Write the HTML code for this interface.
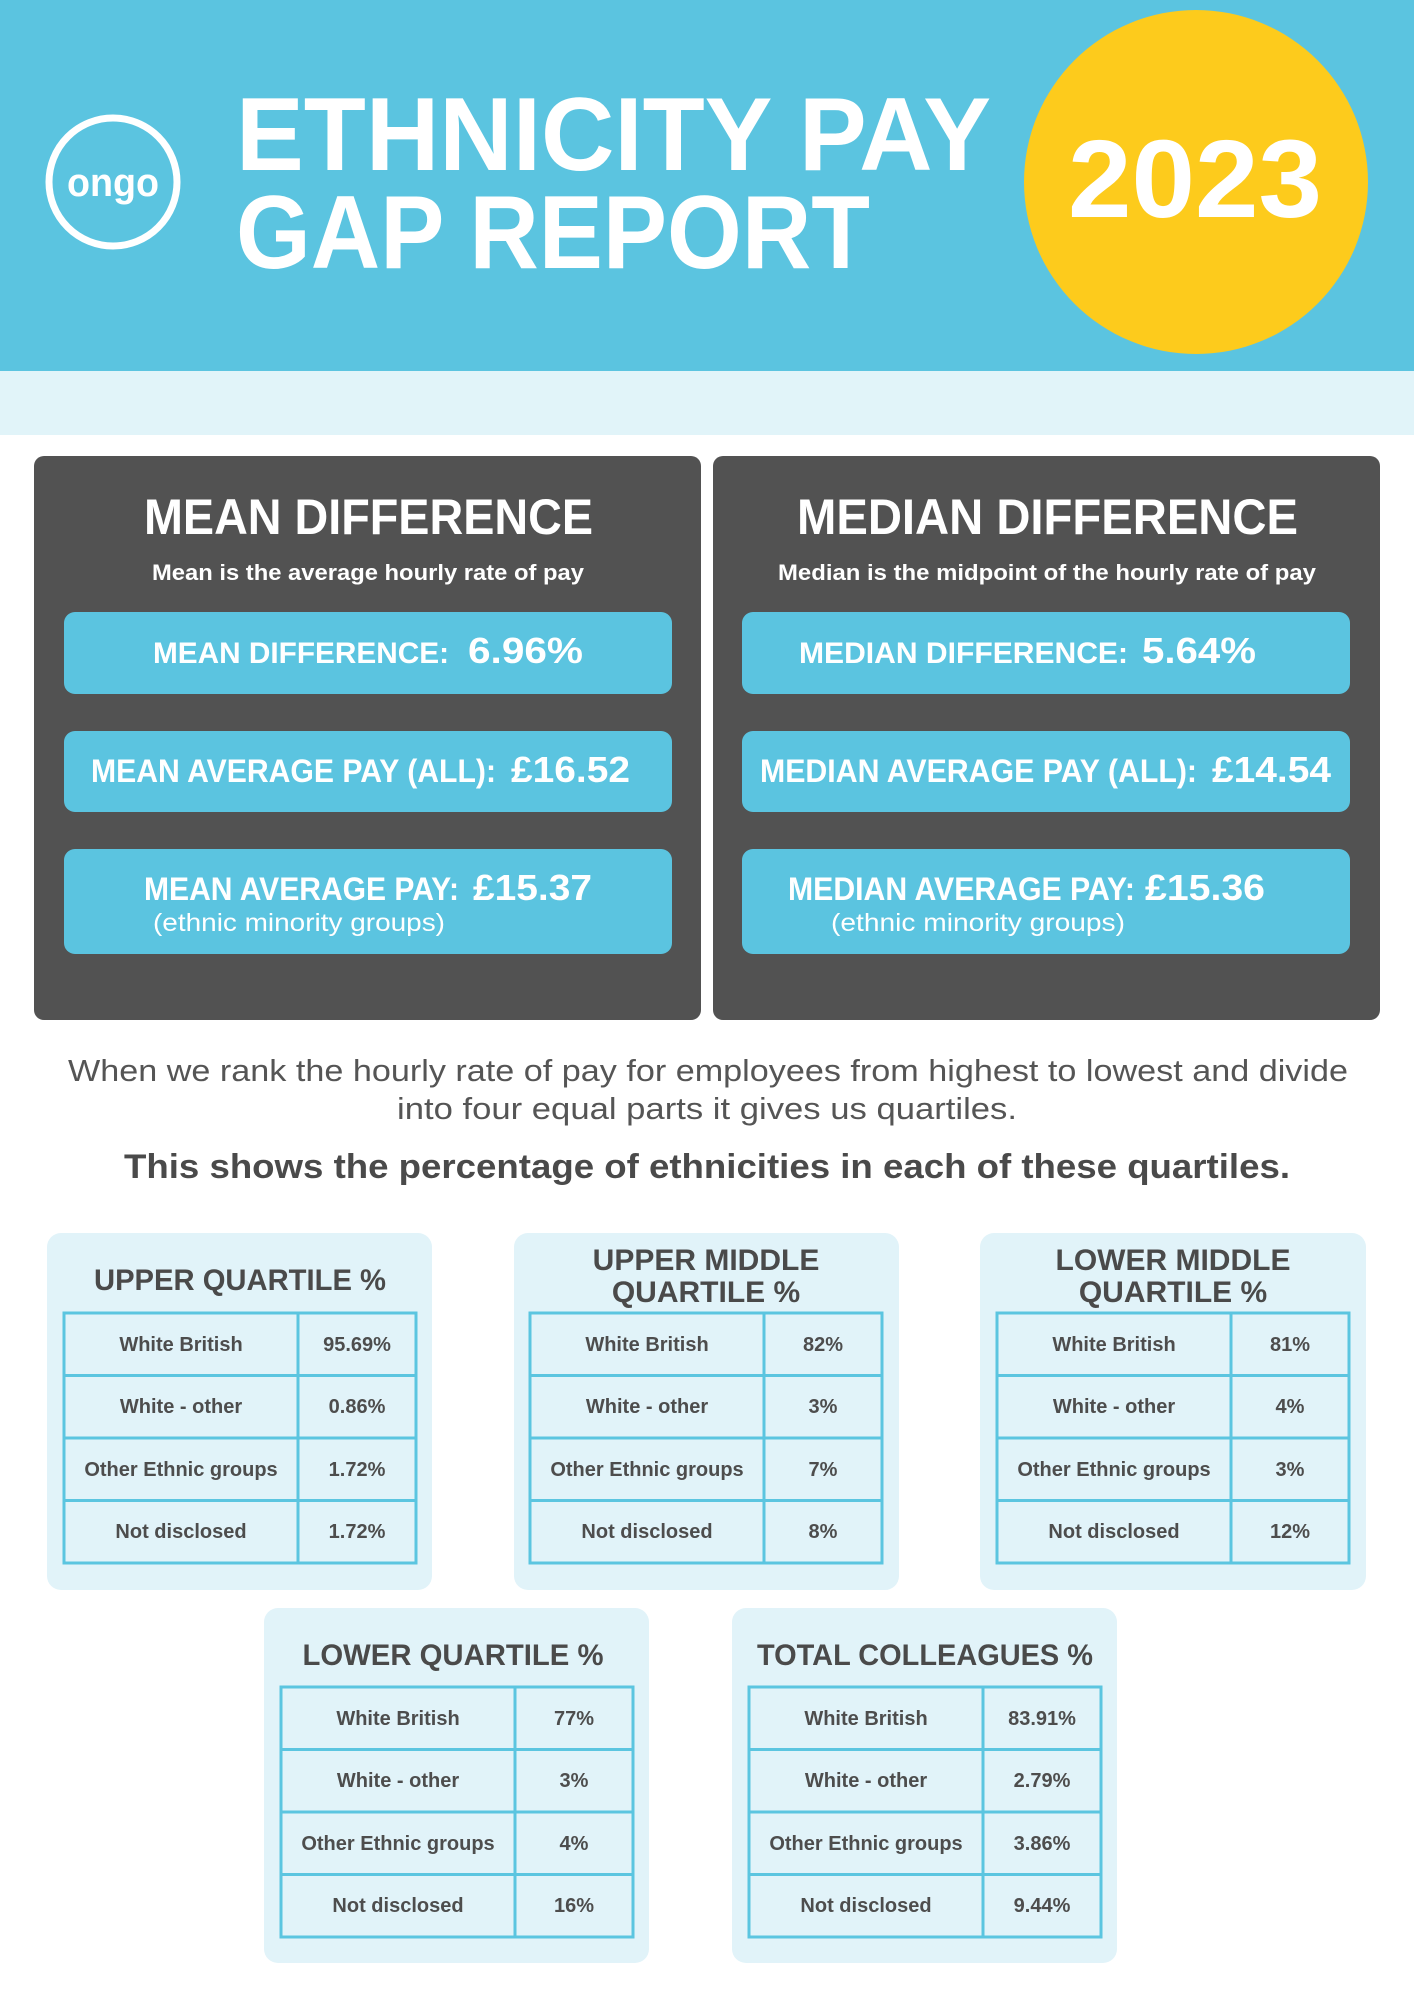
<!DOCTYPE html>
<html><head><meta charset="utf-8"><style>html,body{margin:0;padding:0;background:#fff}svg{display:block}text{font-family:"Liberation Sans",sans-serif;font-weight:bold}</style></head>
<body>
<svg width="1414" height="2000" viewBox="0 0 1414 2000" xmlns="http://www.w3.org/2000/svg">
<rect x="0" y="0" width="1414" height="371" fill="#5bc4e0"/>
<rect x="0" y="371" width="1414" height="64" fill="#e1f4f9"/>
<circle cx="113" cy="182" r="64" fill="none" stroke="#fff" stroke-width="7"/>
<text x="113" y="196" font-size="40" fill="#fff" text-anchor="middle" textLength="92" lengthAdjust="spacingAndGlyphs">ongo</text>
<text x="236" y="170" font-size="104" fill="#fff" textLength="755" lengthAdjust="spacingAndGlyphs">ETHNICITY PAY</text>
<text x="236" y="268" font-size="104" fill="#fff" textLength="634" lengthAdjust="spacingAndGlyphs">GAP REPORT</text>
<circle cx="1196" cy="182" r="172" fill="#fdcb1c"/>
<text x="1068" y="217" font-size="110" fill="#fff" textLength="254" lengthAdjust="spacingAndGlyphs">2023</text>

<rect x="34" y="456" width="667" height="564" rx="10" fill="#525252"/>
<rect x="713" y="456" width="667" height="564" rx="10" fill="#525252"/>
<text x="144" y="534" font-size="50" fill="#fff" textLength="449" lengthAdjust="spacingAndGlyphs">MEAN DIFFERENCE</text>
<text x="797" y="534" font-size="50" fill="#fff" textLength="501" lengthAdjust="spacingAndGlyphs">MEDIAN DIFFERENCE</text>
<text x="152" y="580" font-size="22" fill="#fff" textLength="432" lengthAdjust="spacingAndGlyphs">Mean is the average hourly rate of pay</text>
<text x="778" y="580" font-size="22" fill="#fff" textLength="538" lengthAdjust="spacingAndGlyphs">Median is the midpoint of the hourly rate of pay</text>
<g fill="#5bc4e0">
<rect x="64" y="612" width="608" height="82" rx="11"/><rect x="64" y="731" width="608" height="81" rx="11"/><rect x="64" y="849" width="608" height="105" rx="11"/>
<rect x="742" y="612" width="608" height="82" rx="11"/><rect x="742" y="731" width="608" height="81" rx="11"/><rect x="742" y="849" width="608" height="105" rx="11"/>
</g>
<g fill="#fff">
<text x="153" y="663" font-size="30" textLength="296" lengthAdjust="spacingAndGlyphs">MEAN DIFFERENCE:</text>
<text x="468" y="663" font-size="36" textLength="115" lengthAdjust="spacingAndGlyphs">6.96%</text>
<text x="799" y="663" font-size="30" textLength="329" lengthAdjust="spacingAndGlyphs">MEDIAN DIFFERENCE:</text>
<text x="1142" y="663" font-size="36" textLength="114" lengthAdjust="spacingAndGlyphs">5.64%</text>
<text x="91" y="782" font-size="32" textLength="405" lengthAdjust="spacingAndGlyphs">MEAN AVERAGE PAY (ALL):</text>
<text x="511" y="782" font-size="36" textLength="119" lengthAdjust="spacingAndGlyphs">£16.52</text>
<text x="760" y="782" font-size="32" textLength="437" lengthAdjust="spacingAndGlyphs">MEDIAN AVERAGE PAY (ALL):</text>
<text x="1212" y="782" font-size="36" textLength="119" lengthAdjust="spacingAndGlyphs">£14.54</text>
<text x="144" y="900" font-size="32" textLength="315" lengthAdjust="spacingAndGlyphs">MEAN AVERAGE PAY:</text>
<text x="473" y="900" font-size="36" textLength="119" lengthAdjust="spacingAndGlyphs">£15.37</text>
<text x="788" y="900" font-size="32" textLength="347" lengthAdjust="spacingAndGlyphs">MEDIAN AVERAGE PAY:</text>
<text x="1145" y="900" font-size="36" textLength="120" lengthAdjust="spacingAndGlyphs">£15.36</text>
<text x="153" y="931" font-size="25" font-weight="normal" style="font-weight:normal" textLength="292" lengthAdjust="spacingAndGlyphs">(ethnic minority groups)</text>
<text x="831" y="931" font-size="25" style="font-weight:normal" textLength="294" lengthAdjust="spacingAndGlyphs">(ethnic minority groups)</text>
</g>
<text x="68" y="1081" font-size="31" fill="#555" style="font-weight:normal" textLength="1280" lengthAdjust="spacingAndGlyphs">When we rank the hourly rate of pay for employees from highest to lowest and divide</text>
<text x="397" y="1119" font-size="31" fill="#555" style="font-weight:normal" textLength="620" lengthAdjust="spacingAndGlyphs">into four equal parts it gives us quartiles.</text>
<text x="124" y="1178" font-size="34" fill="#4a4a4a" textLength="1166" lengthAdjust="spacingAndGlyphs">This shows the percentage of ethnicities in each of these quartiles.</text>

<g id="cards">
<rect x="47" y="1233" width="385" height="357" rx="14" fill="#e1f3f9"/>
<rect x="514" y="1233" width="385" height="357" rx="14" fill="#e1f3f9"/>
<rect x="980" y="1233" width="386" height="357" rx="14" fill="#e1f3f9"/>
<rect x="264" y="1608" width="385" height="355" rx="14" fill="#e1f3f9"/>
<rect x="732" y="1608" width="385" height="355" rx="14" fill="#e1f3f9"/>
</g>
<g fill="#4a4a4a" font-size="30" text-anchor="middle">
<text x="240" y="1290" textLength="292" lengthAdjust="spacingAndGlyphs">UPPER QUARTILE %</text>
<text x="706" y="1270">UPPER MIDDLE</text><text x="706" y="1302">QUARTILE %</text>
<text x="1173" y="1270">LOWER MIDDLE</text><text x="1173" y="1302">QUARTILE %</text>
<text x="453" y="1665" textLength="301" lengthAdjust="spacingAndGlyphs">LOWER QUARTILE %</text>
<text x="925" y="1665" textLength="336" lengthAdjust="spacingAndGlyphs">TOTAL COLLEAGUES %</text>
</g>
<g fill="none" stroke="#5bc5e0" stroke-width="3">
<g transform="translate(64,1313)"><rect width="352" height="250"/><path d="M234 0V250M0 62.5H352M0 125H352M0 187.5H352"/></g>
<g transform="translate(530,1313)"><rect width="352" height="250"/><path d="M234 0V250M0 62.5H352M0 125H352M0 187.5H352"/></g>
<g transform="translate(997,1313)"><rect width="352" height="250"/><path d="M234 0V250M0 62.5H352M0 125H352M0 187.5H352"/></g>
<g transform="translate(281,1687)"><rect width="352" height="250"/><path d="M234 0V250M0 62.5H352M0 125H352M0 187.5H352"/></g>
<g transform="translate(749,1687)"><rect width="352" height="250"/><path d="M234 0V250M0 62.5H352M0 125H352M0 187.5H352"/></g>
</g>
<g fill="#4d4d4d" font-size="20" text-anchor="middle">
<g transform="translate(64,1313)"><text x="117" y="38">White British</text><text x="117" y="100">White - other</text><text x="117" y="163">Other Ethnic groups</text><text x="117" y="225">Not disclosed</text><text x="293" y="38">95.69%</text><text x="293" y="100">0.86%</text><text x="293" y="163">1.72%</text><text x="293" y="225">1.72%</text></g>
<g transform="translate(530,1313)"><text x="117" y="38">White British</text><text x="117" y="100">White - other</text><text x="117" y="163">Other Ethnic groups</text><text x="117" y="225">Not disclosed</text><text x="293" y="38">82%</text><text x="293" y="100">3%</text><text x="293" y="163">7%</text><text x="293" y="225">8%</text></g>
<g transform="translate(997,1313)"><text x="117" y="38">White British</text><text x="117" y="100">White - other</text><text x="117" y="163">Other Ethnic groups</text><text x="117" y="225">Not disclosed</text><text x="293" y="38">81%</text><text x="293" y="100">4%</text><text x="293" y="163">3%</text><text x="293" y="225">12%</text></g>
<g transform="translate(281,1687)"><text x="117" y="38">White British</text><text x="117" y="100">White - other</text><text x="117" y="163">Other Ethnic groups</text><text x="117" y="225">Not disclosed</text><text x="293" y="38">77%</text><text x="293" y="100">3%</text><text x="293" y="163">4%</text><text x="293" y="225">16%</text></g>
<g transform="translate(749,1687)"><text x="117" y="38">White British</text><text x="117" y="100">White - other</text><text x="117" y="163">Other Ethnic groups</text><text x="117" y="225">Not disclosed</text><text x="293" y="38">83.91%</text><text x="293" y="100">2.79%</text><text x="293" y="163">3.86%</text><text x="293" y="225">9.44%</text></g>
</g>
</svg>
</body></html>
